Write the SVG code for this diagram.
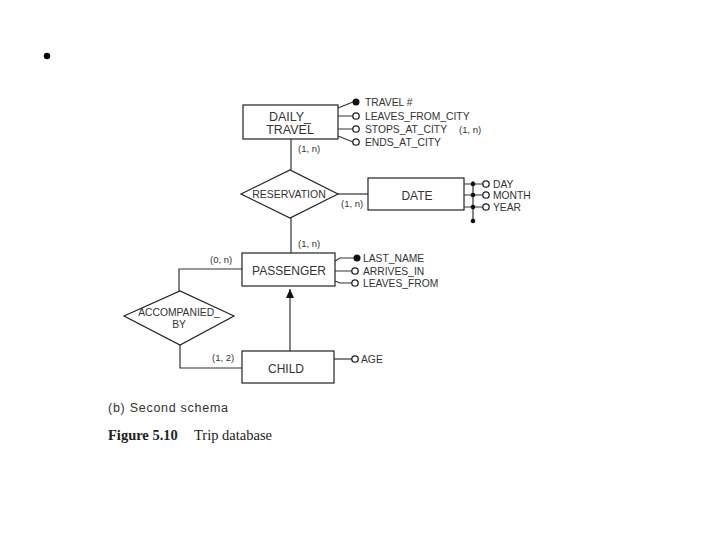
<svg xmlns="http://www.w3.org/2000/svg" width="720" height="540" viewBox="0 0 720 540">
<style>
.box{fill:#fff;stroke:#222;stroke-width:1.2}
.ln{fill:none;stroke:#333;stroke-width:1.2}
.t{font-family:"Liberation Sans",Arial,sans-serif;font-size:12px;fill:#333;text-anchor:middle}
.a{font-family:"Liberation Sans",Arial,sans-serif;font-size:10.3px;fill:#333}
.c{font-family:"Liberation Sans",Arial,sans-serif;font-size:9.5px;fill:#333}
.o{fill:#fff;stroke:#222;stroke-width:1.3}
.f{fill:#111}
</style>
<defs>
<marker id="ah" markerWidth="10" markerHeight="10" refX="9" refY="5" orient="auto" markerUnits="userSpaceOnUse">
<path d="M0,1 L9,5 L0,9 Z" fill="#111"/>
</marker>
</defs>
<circle cx="47" cy="56" r="3.2" fill="#000"/>

<g id="connectors">
<path class="ln" d="M291,139 V170"/>
<path class="ln" d="M291,218 V253"/>
<path class="ln" d="M338,194 H368"/>
<path class="ln" d="M242,269 H179 V291"/>
<path class="ln" d="M180,345 V368 H242"/>
<path class="ln" d="M290,351 V289" marker-end="url(#ah)"/>
<text class="c" x="298" y="152">(1, n)</text>
<text class="c" x="341" y="207">(1, n)</text>
<text class="c" x="298" y="247">(1, n)</text>
<text class="c" x="210" y="263">(0, n)</text>
<text class="c" x="212" y="361">(1, 2)</text>
</g>

<g id="daily_travel">
<rect class="box" x="243" y="105" width="95" height="34"/>
<text class="t" x="290" y="121" style="font-size:12.5px">DAILY_</text>
<text class="t" x="290" y="134" style="font-size:12.5px">TRAVEL</text>
<path class="ln" d="M338,108 L353,102 M338,116 H353 M338,129 H353 M338,136 L353,142"/>
<circle class="f" cx="356" cy="102" r="3.5"/>
<circle class="o" cx="356" cy="116" r="3.2"/>
<circle class="o" cx="356" cy="129" r="3.2"/>
<circle class="o" cx="356" cy="142" r="3.2"/>
<text class="a" x="365" y="106">TRAVEL #</text>
<text class="a" x="365" y="120">LEAVES_FROM_CITY</text>
<text class="a" x="365" y="133">STOPS_AT_CITY</text>
<text class="c" x="459" y="133">(1, n)</text>
<text class="a" x="365" y="146">ENDS_AT_CITY</text>
</g>

<g id="reservation">
<polygon class="box" points="241,194 290,170 338,194 290,218"/>
<text class="t" x="289" y="198" style="font-size:10.5px">RESERVATION</text>
</g>

<g id="date">
<rect class="box" x="368" y="178" width="96" height="32"/>
<text class="t" x="417" y="200">DATE</text>
<path class="ln" d="M473,181 V222 M464,184 H484 M464,195 H484 M464,207 H484"/>
<circle class="f" cx="473" cy="184" r="2.3"/>
<circle class="f" cx="473" cy="195" r="2.3"/>
<circle class="f" cx="473" cy="207" r="2.3"/>
<circle class="f" cx="473" cy="221" r="2.3"/>
<circle class="o" cx="486" cy="184" r="3.2"/>
<circle class="o" cx="486" cy="195" r="3.2"/>
<circle class="o" cx="486" cy="207" r="3.2"/>
<text class="a" x="493" y="188">DAY</text>
<text class="a" x="493" y="199">MONTH</text>
<text class="a" x="493" y="211">YEAR</text>
</g>

<g id="passenger">
<rect class="box" x="242" y="253" width="93" height="33"/>
<text class="t" x="289" y="275">PASSENGER</text>
<path class="ln" d="M335,261 L340,258 H356 M335,271 H352 M335,281 L340,283 H352"/>
<circle class="f" cx="357" cy="258" r="3.5"/>
<circle class="o" cx="355" cy="271" r="3.2"/>
<circle class="o" cx="355" cy="283" r="3.2"/>
<text class="a" x="363" y="262">LAST_NAME</text>
<text class="a" x="363" y="275">ARRIVES_IN</text>
<text class="a" x="363" y="287">LEAVES_FROM</text>
</g>

<g id="accompanied_by">
<polygon class="box" points="124,316 180,291 234,316 180,345"/>
<text class="t" x="179" y="316" style="font-size:10.3px">ACCOMPANIED_</text>
<text class="t" x="179" y="328" style="font-size:10.3px">BY</text>
</g>

<g id="child">
<rect class="box" x="242" y="351" width="92" height="32"/>
<text class="t" x="286" y="373">CHILD</text>
<path class="ln" d="M334,359 H352"/>
<circle class="o" cx="355" cy="359" r="3.2"/>
<text class="a" x="361" y="363">AGE</text>
</g>

<text x="108" y="412" textLength="120" style="font-family:'Liberation Sans',Arial,sans-serif;font-size:12.5px;fill:#333">(b) Second schema</text>
<text x="108" y="440" style="font-family:'Liberation Serif','Times New Roman',serif;font-size:14.5px;fill:#222"><tspan font-weight="bold">Figure 5.10</tspan><tspan x="194">Trip database</tspan></text>
</svg>
